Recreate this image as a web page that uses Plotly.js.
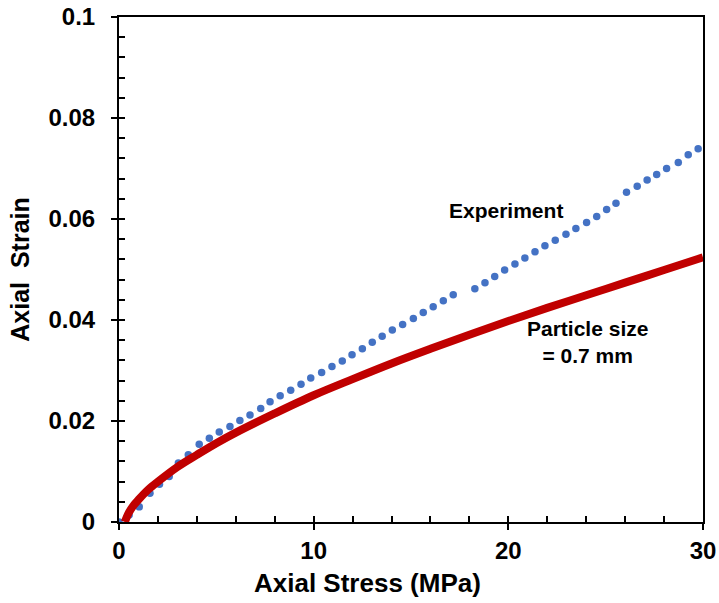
<!DOCTYPE html>
<html>
<head>
<meta charset="utf-8">
<script src="https://cdn.plot.ly/plotly-3.0.1.min.js"></script>
<style>html,body{margin:0;padding:0;background:#fff;}#chart{width:719px;height:603px;}</style>
</head>
<body>
<div id="chart"></div>
<script>
// Experiment (blue dots): axial stress (MPa) and axial strain
const expStress = [0, 0.52, 1.04, 1.59, 2.08, 2.58, 3.05, 3.56, 4.12, 4.64, 5.15, 5.70, 6.21, 6.73, 7.28, 7.76, 8.28, 8.82, 9.35, 9.85, 10.41, 10.94, 11.47, 11.97, 12.50, 13.01, 13.52, 14.04, 14.57, 15.12, 15.63, 16.14, 16.66, 17.17, 18.28, 18.80, 19.30, 19.81, 20.34, 20.85, 21.37, 21.88, 22.41, 22.96, 23.47, 24.02, 24.54, 25.05, 25.53, 26.07, 26.62, 27.13, 27.62, 28.13, 28.73, 29.24, 29.75];
const expStrain = [0, 0.0014, 0.0030, 0.0057, 0.0075, 0.0090, 0.0117, 0.0133, 0.0154, 0.0166, 0.0178, 0.0189, 0.0201, 0.0212, 0.0225, 0.0238, 0.0250, 0.0261, 0.0273, 0.0285, 0.0296, 0.0308, 0.0319, 0.0331, 0.0343, 0.0356, 0.0368, 0.0380, 0.0391, 0.0403, 0.0415, 0.0426, 0.0438, 0.0450, 0.0462, 0.0474, 0.0486, 0.0499, 0.0511, 0.0523, 0.0535, 0.0547, 0.0558, 0.0570, 0.0581, 0.0593, 0.0605, 0.0619, 0.0631, 0.0653, 0.0665, 0.0677, 0.0688, 0.0700, 0.0712, 0.0727, 0.0739];

// Model, particle size = 0.7 mm (red line)
const modelStress = [0.3, 0.5, 0.75, 1, 1.5, 2, 3, 4, 5, 6, 8, 10, 12, 14, 16, 18, 20, 22, 24, 26, 28, 30];
const modelStrain = [0, 0.0018, 0.0033, 0.0044, 0.0064, 0.0080, 0.0109, 0.0133, 0.0156, 0.0177, 0.0215, 0.0251, 0.0283, 0.0314, 0.0343, 0.0371, 0.0398, 0.0424, 0.0449, 0.0474, 0.0499, 0.0524];

const xTickVals = [0, 10, 20, 30];
const xTickText = ['0', '10', '20', '30'];
const yTickVals = [0, 0.02, 0.04, 0.06, 0.08, 0.1];
const yTickText = ['0', '0.02', '0.04', '0.06', '0.08', '0.1'];

const FONT = 'Liberation Sans, Arial, sans-serif';

const traces = [
  {
    x: expStress, y: expStrain, type: 'scatter', mode: 'markers',
    name: 'Experiment', xaxis: 'x', yaxis: 'y',
    marker: {color: '#4472C4', size: 7.5}
  },
  {
    x: modelStress, y: modelStrain, type: 'scatter', mode: 'lines',
    name: 'Particle size = 0.7 mm', xaxis: 'x2', yaxis: 'y2',
    line: {color: '#C00000', width: 8, shape: 'spline'}
  }
];

const layout = {
  width: 719, height: 603,
  margin: {l: 119, r: 16, t: 17, b: 81},
  paper_bgcolor: '#fff', plot_bgcolor: '#fff',
  showlegend: false,
  font: {family: FONT, color: '#000'},
  xaxis: {
    range: [0, 30], tickmode: 'array', tickvals: xTickVals, ticktext: xTickText,
    ticks: 'outside', ticklen: 6, tickwidth: 2, tickcolor: '#000',
    showline: true, linecolor: '#000', linewidth: 2, mirror: true,
    showgrid: false, zeroline: false,
    tickfont: {family: FONT, size: 24, weight: 'bold', color: '#000'}
  },
  yaxis: {
    range: [0, 0.1], tickmode: 'array', tickvals: yTickVals, ticktext: yTickText,
    ticks: 'outside', ticklen: 6, tickwidth: 2, tickcolor: '#000',
    showline: true, linecolor: '#000', linewidth: 2, mirror: true,
    showgrid: false, zeroline: false,
    ticklabelstandoff: 11,
    tickfont: {family: FONT, size: 24, weight: 'bold', color: '#000'},
    title: {text: 'Axial  Strain', standoff: 12, font: {family: FONT, size: 25, weight: 'bold', color: '#000'}}
  },
  xaxis2: {
    overlaying: 'x', anchor: 'y2', side: 'bottom', range: [0, 30], dtick: 2, tick0: 0,
    ticks: 'inside', ticklen: 6, tickwidth: 2, tickcolor: '#000',
    showticklabels: false, showline: false, showgrid: false, zeroline: false
  },
  yaxis2: {
    overlaying: 'y', anchor: 'x2', side: 'left', range: [0, 0.1], dtick: 0.004, tick0: 0,
    ticks: 'inside', ticklen: 6, tickwidth: 2, tickcolor: '#000',
    showticklabels: false, showline: false, showgrid: false, zeroline: false
  },
  annotations: [
    {xref: 'paper', yref: 'paper', x: 0.425, y: -0.088, yanchor: 'top', xanchor: 'center',
     text: 'Axial Stress (MPa)', showarrow: false,
     font: {family: FONT, size: 26, weight: 'bold', color: '#000'}},
    {xref: 'paper', yref: 'paper', x: 0.6627, y: 0.616, xanchor: 'center', yanchor: 'middle',
     text: 'Experiment', showarrow: false,
     font: {family: FONT, size: 21, weight: 'bold', color: '#000'}},
    {xref: 'paper', yref: 'paper', x: 0.803, y: 0.357, xanchor: 'center', yanchor: 'middle',
     text: 'Particle size<br>= 0.7 mm', showarrow: false, align: 'center',
     font: {family: FONT, size: 21, weight: 'bold', color: '#000'}}
  ]
};

Plotly.newPlot('chart', traces, layout, {displayModeBar: false, staticPlot: true});
</script>
</body>
</html>
